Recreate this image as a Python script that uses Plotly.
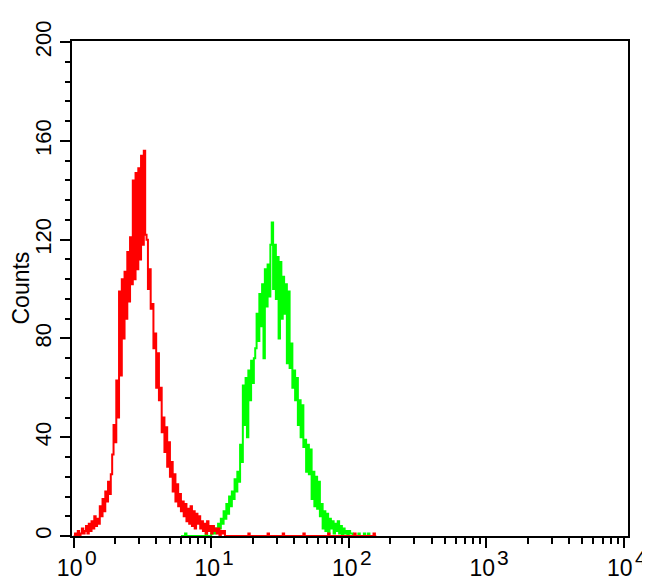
import math
import plotly.graph_objects as go

# ---- data: histogram counts per channel (channel step = 0.01 decade) ----
red_counts = [
    0, 1, 0, 2, 0, 1, 3, 1, 2, 4,
    1, 5, 2, 6, 3, 8, 4, 7, 5, 12,
    8, 15, 10, 18, 14, 22, 17, 25, 33, 45,
    38, 63, 48, 99, 65, 104, 80, 107, 88, 115,
    95, 121, 102, 144, 104, 147, 108, 149, 112, 154,
    118, 156, 122, 120, 100, 108, 92, 94, 76, 82,
    60, 74, 55, 60, 42, 48, 34, 44, 28, 38,
    24, 30, 18, 25, 14, 21, 12, 17, 10, 14,
    8, 13, 6, 11, 5, 12, 4, 10, 3, 9,
    5, 8, 3, 6, 2, 5, 1, 6, 2, 4,
    1, 4, 2, 3, 1, 3, 0, 2, 1, 2,
    0,
]
red_tail_channels = [127, 141, 152, 167, 185, 204, 218]
red_tail_counts = [1, 1, 1, 1, 1, 1, 1]

green_first_channel = 100
green_counts = [
    1, 2, 1, 3, 2, 5, 3, 7, 5, 10,
    7, 13, 9, 16, 12, 18, 15, 23, 18, 26,
    22, 37, 30, 61, 45, 64, 40, 67, 55, 71,
    62, 72, 76, 90, 79, 98, 85, 102, 72, 108,
    93, 110, 97, 118, 127, 100, 118, 96, 113, 80,
    111, 88, 105, 90, 102, 70, 99, 68, 78, 60,
    67, 55, 64, 45, 55, 40, 53, 36, 39, 26,
    37, 25, 35, 15, 26, 12, 24, 11, 22, 8,
    13, 3, 10, 2, 9, 1, 7, 3, 6, 1,
    5, 2, 6, 1, 4, 0, 3, 1, 2, 0,
    2, 1, 1, 0,
]
green_sparse_channels = [81, 96, 207, 211, 214]
green_sparse_counts = [1, 1, 1, 1, 1]

channels_per_decade = 100
x_tick_vals = [1, 10, 100, 1000, 10000]
x_tick_base = ["10", "10", "10", "10", "10"]
x_tick_exp = ["0", "1", "2", "3", "4"]
y_tick_vals = [0, 40, 80, 120, 160, 200]
y_tick_text = ["0", "40", "80", "120", "160", "200"]
y_title = "Counts"

# ---- build channel series ----
red_ch = list(range(0, 221))
tail = dict(zip(red_tail_channels, red_tail_counts))
red_y = [red_counts[c] if c < len(red_counts) else tail.get(c, 0) for c in red_ch]

green_ch = list(range(78, 219))
gmap = dict(zip(green_sparse_channels, green_sparse_counts))
for i, v in enumerate(green_counts):
    gmap[green_first_channel + i] = v
green_y = [gmap.get(c, 0) for c in green_ch]

red_x = [10 ** (c / channels_per_decade) for c in red_ch]
green_x = [10 ** (c / channels_per_decade) for c in green_ch]

fig = go.Figure()
fig.add_trace(go.Scatter(x=green_x, y=green_y, mode="lines",
                         line=dict(color="#00ff00", width=2, shape="hv"),
                         showlegend=False, hoverinfo="skip"))
fig.add_trace(go.Scatter(x=red_x, y=red_y, mode="lines",
                         line=dict(color="#ff0000", width=2, shape="hv"),
                         showlegend=False, hoverinfo="skip"))

minor_x = [m * 10 ** k for k in range(4) for m in range(2, 10)]

font_family = "Liberation Sans, Arial, sans-serif"

# exponent part of the x tick labels
for v, e in zip(x_tick_vals, x_tick_exp):
    fig.add_annotation(x=math.log10(v), y=0, xref="x", yref="paper",
                       text=e, showarrow=False, xanchor="left", yanchor="top",
                       xshift=9, yshift=-8,
                       font=dict(size=21, family=font_family, color="black"))

# y-axis title
fig.add_annotation(x=0, y=0.5, xref="paper", yref="paper", text=y_title,
                   showarrow=False, textangle=-90, xanchor="right", yanchor="middle",
                   xshift=-38, borderpad=0,
                   font=dict(size=23, family=font_family, color="black"))

# the page body has an 8px margin, so the figure is 8px smaller than the window
fig.update_layout(
    width=642, height=577,
    margin=dict(l=64, r=22, t=33, b=49),
    paper_bgcolor="white", plot_bgcolor="white",
    font=dict(family=font_family, color="black"),
    xaxis=dict(
        type="log", range=[-0.012, 4.03], automargin=False,
        showgrid=False, zeroline=False,
        showline=True, linecolor="black", linewidth=2, mirror=True,
        ticks="outside", ticklen=10, tickwidth=2, tickcolor="black",
        tickvals=x_tick_vals, ticktext=x_tick_base, ticklabelshift=-4,
        tickfont=dict(size=23, family=font_family, color="black"),
        minor=dict(tickvals=minor_x, ticks="outside", ticklen=6, tickwidth=2, tickcolor="black"),
    ),
    yaxis=dict(
        range=[0, 200.5], automargin=False,
        showgrid=False, zeroline=False,
        showline=True, linecolor="black", linewidth=2, mirror=True,
        ticks="outside", ticklen=10, tickwidth=2, tickcolor="black",
        tickvals=y_tick_vals, ticktext=y_tick_text, tickangle=-90,
        tickfont=dict(size=22, family=font_family, color="black"),
        minor=dict(dtick=8, tick0=0, ticks="outside", ticklen=5, tickwidth=2, tickcolor="black"),
    ),
)

fig.write_html("out.html")
